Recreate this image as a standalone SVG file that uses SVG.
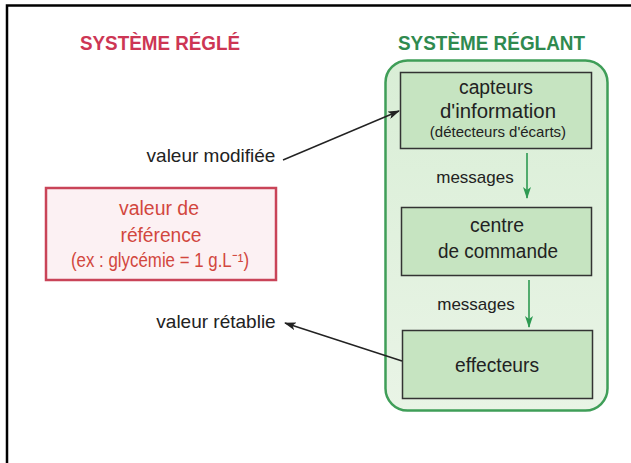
<svg xmlns="http://www.w3.org/2000/svg" width="631" height="463" viewBox="0 0 631 463">
  <defs>
    <linearGradient id="panelFill" x1="0" y1="0" x2="0" y2="1">
      <stop offset="0" stop-color="#d9eed6"/>
      <stop offset="1" stop-color="#e9f4e6"/>
    </linearGradient>
    <marker id="blackHead" viewBox="0 0 12 8" refX="11" refY="4" markerWidth="12" markerHeight="8" markerUnits="userSpaceOnUse" orient="auto">
      <path d="M0,0 L12,4 L0,8 L3,4 Z" fill="#222"/>
    </marker>
    <marker id="greenHead" viewBox="0 0 8 12" refX="4" refY="11" markerWidth="8" markerHeight="12" markerUnits="userSpaceOnUse" orient="0">
      <path d="M0,0 L4,12 L8,0 L4,3 Z" fill="#2e9a52"/>
    </marker>
  </defs>
  <style>
    text { font-family: "Liberation Sans", Arial, sans-serif; text-anchor: middle; }
    .title { font-size: 20px; font-weight: bold; }
    .label { font-size: 20px; fill: #222; }
    .side { font-size: 19px; fill: #222; }
    .small { font-size: 15px; fill: #222; }
    .msg { font-size: 17px; fill: #222; }
    .ref { font-size: 19.5px; fill: #d2473e; }
    .box { fill: #c6e4c1; stroke: #333; stroke-width: 1.5; }
    .link { stroke: #222; stroke-width: 1.4; fill: none; }
    .flow { stroke: #2e9a52; stroke-width: 1.6; fill: none; }
  </style>

  <!-- frame -->
  <path d="M7,463 V5.5 H631" fill="none" stroke="#000" stroke-width="2.5"/>

  <!-- headings -->
  <text class="title" x="160" y="50" fill="#cd3654" textLength="160" lengthAdjust="spacingAndGlyphs">SYSTÈME RÉGLÉ</text>
  <text class="title" x="491.5" y="50" fill="#2f8a4f" textLength="187" lengthAdjust="spacingAndGlyphs">SYSTÈME RÉGLANT</text>

  <!-- regulating system panel -->
  <g id="panel">
    <rect x="385.5" y="60.5" width="222" height="350" rx="22" fill="url(#panelFill)" stroke="#3f9e58" stroke-width="2.5"/>
  </g>

  <g id="capteurs">
    <rect class="box" x="400.5" y="72.5" width="191" height="76"/>
    <text class="label" x="496" y="94" textLength="74" lengthAdjust="spacingAndGlyphs">capteurs</text>
    <text class="label" x="498" y="118" textLength="116" lengthAdjust="spacingAndGlyphs">d'information</text>
    <text class="small" x="498" y="137">(détecteurs d'écarts)</text>
  </g>

  <g id="centre">
    <rect class="box" x="401.5" y="207.5" width="190" height="68"/>
    <text class="label" x="497" y="232" textLength="54" lengthAdjust="spacingAndGlyphs">centre</text>
    <text class="label" x="498" y="258" textLength="120" lengthAdjust="spacingAndGlyphs">de commande</text>
  </g>

  <g id="effecteurs">
    <rect class="box" x="402.5" y="330.5" width="190" height="68"/>
    <text class="label" x="497" y="372" textLength="84" lengthAdjust="spacingAndGlyphs">effecteurs</text>
  </g>

  <g id="reference">
    <rect x="46" y="188" width="230" height="92" fill="#fcf1f3" stroke="#c94458" stroke-width="2.5"/>
    <text class="ref" x="159" y="215" textLength="80" lengthAdjust="spacingAndGlyphs">valeur de</text>
    <text class="ref" x="161" y="242" textLength="81" lengthAdjust="spacingAndGlyphs">référence</text>
    <text class="ref" x="160" y="267" font-size="18.5" textLength="178" lengthAdjust="spacingAndGlyphs">(ex : glycémie = 1 g.L⁻¹)</text>
  </g>

  <g id="valeur-modifiee">
    <text class="side" x="211" y="162">valeur modifiée</text>
  </g>
  <g id="valeur-retablie">
    <text class="side" x="216" y="328">valeur rétablie</text>
  </g>

  <g id="connectors">
    <line class="link" x1="283" y1="160" x2="399" y2="111" marker-end="url(#blackHead)"/>
    <line class="link" x1="402" y1="361" x2="285" y2="323" marker-end="url(#blackHead)"/>
    <line class="flow" x1="527" y1="153" x2="527" y2="198" marker-end="url(#greenHead)"/>
    <text class="msg" x="475" y="183">messages</text>
    <line class="flow" x1="529" y1="280" x2="529" y2="327" marker-end="url(#greenHead)"/>
    <text class="msg" x="476" y="310">messages</text>
  </g>
</svg>
